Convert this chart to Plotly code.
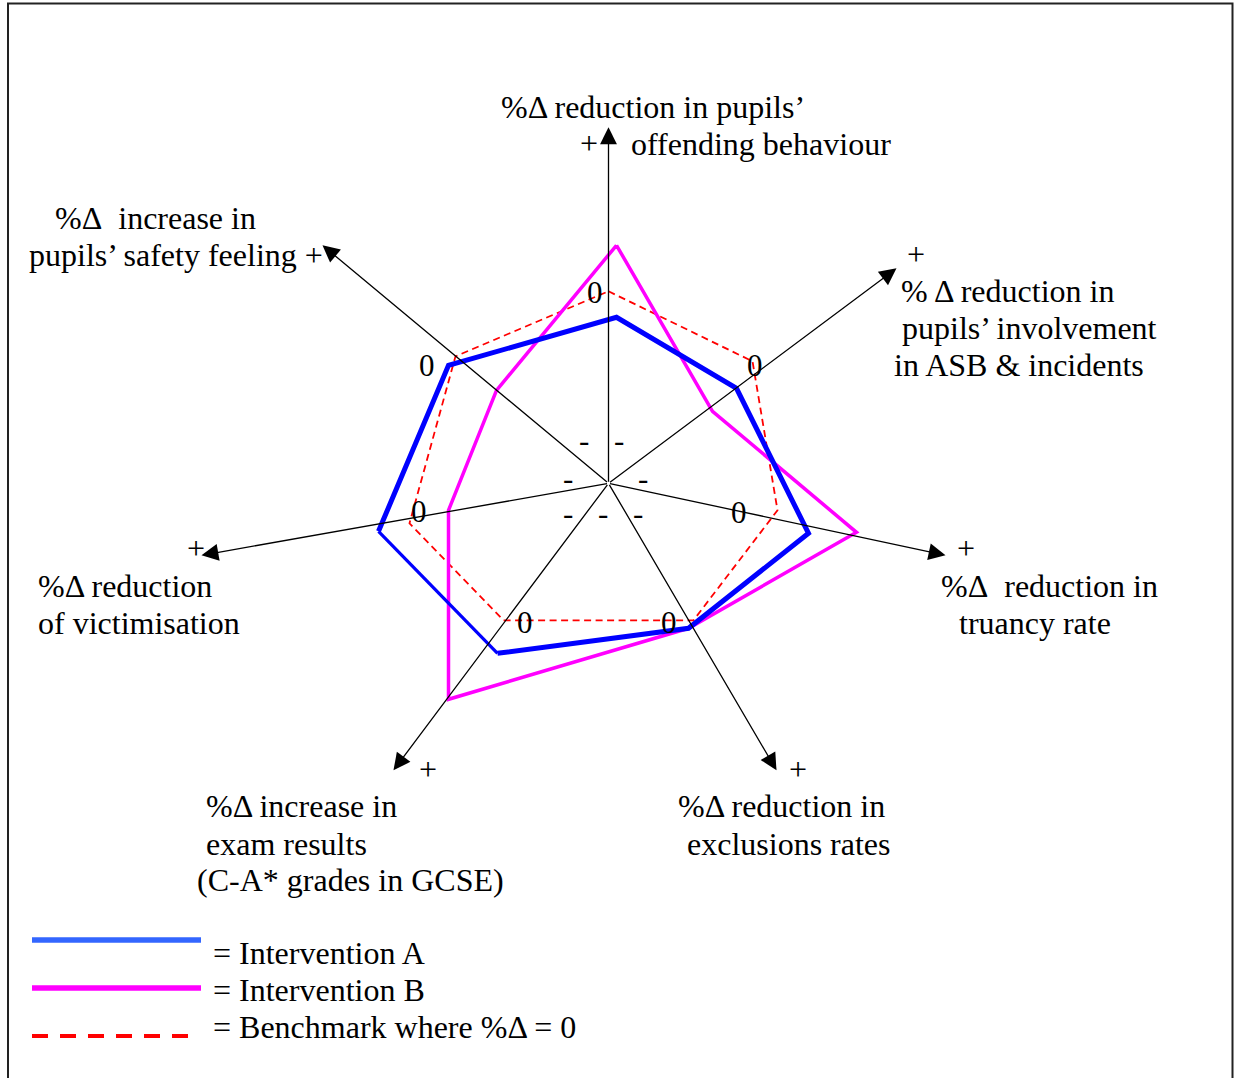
import plotly.graph_objects as go

# spokes, clockwise from the top; coordinates are in a frame centred on the hub (y up)
spokes = ['offending', 'ASB & incidents', 'truancy', 'exclusions', 'exam results', 'victimisation', 'safety feeling']
tip_x = [0, 288, 337, 168, -215, -407, -286]
tip_y = [356, 215, -72, -287, -287, -72, 238]

# benchmark where %change = 0
bench_x = [0, 144, 169, 85, -105, -199, -153]
bench_y = [192, 122, -27, -137, -137, -40, 127]

# intervention A
a_x = [8, 128, 200, 80, -111, -230, -160]
a_y = [166, 95, -50, -145, -170, -48, 118]

# intervention B
b_x = [8, 104, 248, 80, -160, -160, -112]
b_y = [238, 72, -49, -145, -216, -27, 93]

W, H = 1234, 1078
CX, CY = 608.5, 483.3  # hub position on the page


def px(x, y):
    # page pixel -> chart frame
    return x - CX, CY - y


FONT = 'Liberation Serif'
FS = 32

fig = go.Figure()

# benchmark polygon
fig.add_trace(go.Scatter(x=bench_x + bench_x[:1], y=bench_y + bench_y[:1], mode='lines',
                         line=dict(color='#ff0000', width=1.8, dash='7px,4.5px'),
                         name='Benchmark', hoverinfo='skip'))
# intervention B
fig.add_trace(go.Scatter(x=b_x + b_x[:1], y=b_y + b_y[:1], mode='lines',
                         line=dict(color='#ff00ff', width=3.5),
                         name='Intervention B', hoverinfo='skip'))
# intervention A (one edge drawn thinner, as in the original)
order = [5, 6, 0, 1, 2, 3, 4]
fig.add_trace(go.Scatter(x=[a_x[i] for i in order], y=[a_y[i] for i in order], mode='lines',
                         line=dict(color='#0000ff', width=5),
                         name='Intervention A', hoverinfo='skip'))
fig.add_trace(go.Scatter(x=[a_x[4], a_x[5]], y=[a_y[4], a_y[5]], mode='lines',
                         line=dict(color='#0000ff', width=3.2),
                         showlegend=False, hoverinfo='skip'))

annotations = []
# spokes with arrow heads
for tx, ty in zip(tip_x, tip_y):
    annotations.append(dict(x=tx, y=ty, ax=0, ay=0, xref='x', yref='y', axref='x', ayref='y',
                            text='', showarrow=True, arrowhead=2, arrowsize=2.6,
                            arrowwidth=1.3, arrowcolor='black'))


def label(text, x, y, anchor='left', size=FS):
    fx, fy = px(x - 2, y)  # small nudge for the font's side bearing
    annotations.append(dict(x=fx, y=fy, xref='x', yref='y', text=text, showarrow=False,
                            xanchor=anchor, yanchor='middle',
                            font=dict(family=FONT, size=size, color='black')))


nb = '\u00a0'
# axis titles
label('%\u0394 reduction in pupils\u2019', 501, 107)
label('offending behaviour', 631, 144)
label('%\u0394' + nb + nb + 'increase in', 55, 218)
label('pupils\u2019 safety feeling +', 29, 255)
label('% \u0394 reduction in', 901, 291)
label(nb + 'pupils\u2019 involvement', 894, 328)
label('in ASB &amp; incidents', 894, 365)
label('%\u0394' + nb + nb + 'reduction in', 941, 586)
label('truancy rate', 959, 623)
label('%\u0394 reduction in', 678, 806)
label('exclusions rates', 687, 844)
label('%\u0394 increase in', 206, 806)
label('exam results', 206, 844)
label('(C-A* grades in GCSE)', 197, 880)
label('%\u0394 reduction', 38, 586)
label('of victimisation', 38, 623)

# plus signs at the arrow ends
for x, y in [(591, 143), (918, 254), (968, 548), (800, 769), (430, 769), (198, 548)]:
    label('+', x, y, anchor='center')

# zero marks
for x, y in [(597, 292), (757, 365), (741, 512), (671, 622), (527, 622), (421, 511), (429, 365)]:
    label('0', x, y, anchor='center', size=31)

# minus marks near the hub
for x, y in [(586, 440), (621, 440), (570, 478), (645, 478), (570, 513), (605, 513), (640, 513)]:
    label('-', x, y, anchor='center', size=31)

# legend text
label('= Intervention A', 213, 953)
label('= Intervention B', 213, 990)
label('= Benchmark where %\u0394 = 0', 213, 1027)

shapes = []
# legend samples
for (x0, x1, y), col, dash, wd in [((32, 201, 940), '#3366ff', 'solid', 5.3),
                                   ((32, 201, 988), '#ff00ff', 'solid', 5.3),
                                   ((32, 190, 1036), '#ff0000', '16px,12px', 4)]:
    fx0, fy = px(x0, y)
    fx1, _ = px(x1, y)
    shapes.append(dict(type='line', xref='x', yref='y', x0=fx0, x1=fx1, y0=fy, y1=fy,
                       line=dict(color=col, width=wd, dash=dash)))
# frame around the figure
shapes.append(dict(type='rect', xref='paper', yref='paper', x0=8 / W, x1=1232.5 / W,
                   y0=-0.02, y1=1 - 3.5 / H, line=dict(color='#222222', width=2)))

fig.update_layout(
    width=W, height=H,
    margin=dict(l=0, r=0, t=0, b=0, pad=0),
    paper_bgcolor='white', plot_bgcolor='white',
    showlegend=False,
    xaxis=dict(range=[-CX, W - CX], visible=False, fixedrange=True),
    yaxis=dict(range=[CY - H, CY], visible=False, fixedrange=True),
    annotations=annotations,
    shapes=shapes,
)

# the page body has a default 8px margin; drop it so the figure sits at the corner
fig.write_html('out.html', config={'displayModeBar': False},
               post_script="document.body.style.margin='0';")
